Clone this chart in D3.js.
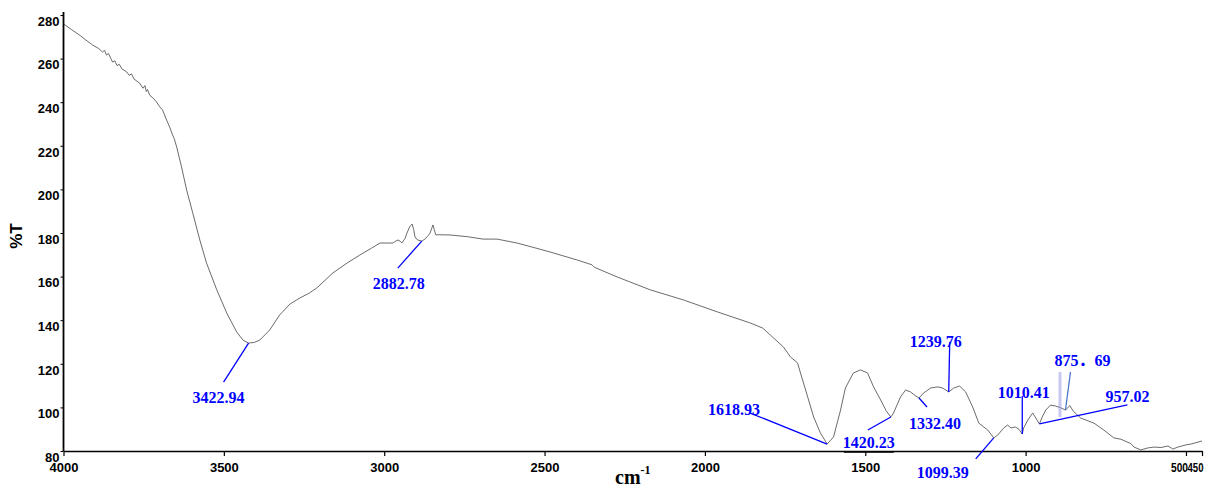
<!DOCTYPE html>
<html>
<head>
<meta charset="utf-8">
<script src="https://cdn.jsdelivr.net/npm/d3@7"></script>
<style>
  html, body { margin: 0; padding: 0; background: #fff; }
  svg { display: block; }
  .tick text { font-family: "Liberation Sans", Arial, sans-serif; font-weight: bold; font-size: 13px; fill: #000; }
  .peak-label { font-family: "Liberation Serif", "Times New Roman", "Noto Sans CJK SC", serif; font-weight: bold; font-size: 16px; fill: #0000ff; }
</style>
</head>
<body>
<svg id="chart" width="1211" height="487"></svg>
<script>
// FTIR spectrum: wavenumber (cm-1) and transmittance (%T)
const wavenumbers = [
  4000, 3975, 3950, 3930, 3909, 3890, 3878, 3872, 3866, 3860, 3852, 3847, 3840, 3833, 3826, 3818,
  3803, 3795, 3788, 3780, 3763, 3752, 3746, 3742, 3738, 3731, 3722, 3710, 3700, 3691, 3680, 3669,
  3660, 3655, 3647, 3632, 3616, 3597, 3575, 3554, 3522, 3491, 3460, 3440, 3422.94, 3405, 3388, 3357,
  3326, 3294, 3263, 3235, 3210, 3160, 3116, 3076, 3040, 3013, 2973, 2965, 2957, 2950, 2945, 2935,
  2929, 2920, 2913, 2908, 2904, 2896, 2882.78, 2873, 2863, 2857, 2851, 2848, 2844, 2839, 2830, 2795,
  2740, 2692, 2648, 2586, 2530, 2483, 2398, 2352, 2345, 2273, 2170, 2067, 1961, 1858, 1820, 1796,
  1755, 1733, 1711, 1702, 1685, 1661, 1640, 1618.93, 1599, 1577, 1562, 1537, 1515, 1493, 1474, 1452,
  1435, 1420.23, 1412, 1390, 1374, 1359, 1345, 1332.40, 1318, 1296, 1274, 1259, 1239.76, 1224, 1206, 1187,
  1165, 1146, 1118, 1099.39, 1087, 1068, 1056, 1046, 1031, 1020, 1010.41, 1006, 993, 978, 968, 957.02,
  947, 937, 922, 906, 890, 875.69, 862, 851, 828, 787, 756, 725, 703, 672, 662, 641,
  619, 600, 578, 556, 541, 525, 500, 484, 450
];
const transmittance = [
  275.9, 273.3, 270.8, 268.5, 266.2, 264.6, 263.0, 263.8, 261.6, 262.4, 260.0, 258.4, 259.0, 256.8, 257.4, 255.3,
  253.9, 252.3, 253.0, 250.6, 248.8, 246.4, 247.6, 244.9, 245.8, 243.2, 242.1, 240.1, 237.9, 236.4, 232.3, 228.6,
  225.0, 223.4, 219.4, 210.3, 199.7, 189.2, 176.8, 166.2, 153.9, 143.3, 134.6, 130.8, 129.5, 129.8, 130.9, 135.5,
  142.4, 147.4, 150.2, 152.3, 154.8, 161.7, 166.2, 169.9, 173.0, 175.4, 175.4, 176.2, 176.8, 176.2, 175.4, 177.5,
  180.0, 183.0, 184.1, 181.5, 178.2, 176.8, 176.3, 177.2, 178.8, 180.0, 182.5, 183.7, 181.5, 179.1, 179.2, 179.1,
  178.3, 177.2, 177.2, 175.4, 173.2, 171.3, 167.6, 165.4, 164.3, 159.8, 153.9, 149.3, 143.8, 138.7, 136.4, 133.2,
  127.7, 123.1, 120.4, 115.8, 107.5, 95.6, 88.3, 83.2, 86.4, 98.8, 108.9, 115.8, 117.2, 115.8, 109.4, 103.4,
  98.5, 95.6, 97.4, 104.8, 108.0, 107.1, 105.5, 104.3, 106.6, 108.9, 109.4, 108.9, 107.1, 108.9, 109.8, 107.1,
  100.2, 92.8, 89.6, 86.0, 87.3, 90.6, 91.9, 90.6, 91.0, 89.8, 87.8, 90.6, 94.2, 97.4, 95.1, 92.4,
  96.0, 98.8, 101.1, 100.6, 99.8, 98.8, 100.8, 98.2, 95.1, 92.8, 89.6, 86.0, 85.4, 83.4, 81.8, 80.5,
  81.4, 81.8, 81.6, 82.3, 80.9, 81.8, 82.8, 83.2, 84.6
];

// Axis ticks
const xTicks = [4000, 3500, 3000, 2500, 2000, 1500, 1000, 500, 450];
const yTicks = [80, 100, 120, 140, 160, 180, 200, 220, 240, 260, 280];

// Labelled band positions (cm-1)
const peakLabels = ["3422.94", "2882.78", "1618.93", "1420.23", "1332.40", "1239.76", "1099.39", "1010.41", "957.02", "875．69"];
const peakWavenumbers = [3422.94, 2882.78, 1618.93, 1420.23, 1332.40, 1239.76, 1099.39, 1010.41, 957.02, 875.69];

// Leader-line end and label centre, as pixel offsets from the band point
const labelLayout = [
  { lx: -25, ly: 39, tx: -30, ty: 54 },
  { lx: -24, ly: 27, tx: -23, ty: 42 },
  { lx: -77, ly: -31, tx: -93, ty: -35 },
  { lx: -23, ly: 13, tx: -22, ty: 26 },
  { lx: 8, ly: 9, tx: 16, ty: 25 },
  { lx: 1, ly: -50, tx: -13, ty: -50 },
  { lx: -18, ly: 21, tx: -51, ty: 35 },
  { lx: 0, ly: -38, tx: 1.5, ty: -41 },
  { lx: 88, ly: -19, tx: 88, ty: -27 },
  { lx: 5, ly: -38, tx: 17, ty: -50 }
];

const svg = d3.select("#chart");
const margin = { left: 63.5, right: 1202, top: 15, bottom: 451 };

const x = d3.scaleLinear().domain([4000, 450]).range([margin.left, margin.right]);
const y = d3.scaleLinear().domain([80, 280]).range([margin.bottom, margin.top]);

const spectrum = wavenumbers.map((w, i) => ({ w, t: transmittance[i] }));

// Transmittance at a given wavenumber, by linear interpolation along the trace
function tAt(w) {
  for (let i = 0; i < spectrum.length - 1; i++) {
    const a = spectrum[i], b = spectrum[i + 1];
    if (w <= a.w && w >= b.w) {
      const f = (a.w - w) / (a.w - b.w);
      return a.t + f * (b.t - a.t);
    }
  }
  return spectrum[spectrum.length - 1].t;
}

// Spectrum trace
svg.append("path")
  .datum(spectrum)
  .attr("fill", "none")
  .attr("stroke", "#5a5a5a")
  .attr("stroke-width", 0.9)
  .attr("stroke-linejoin", "round")
  .attr("d", d3.line().x(d => x(d.w)).y(d => y(d.t)));

// X axis
const xAxis = svg.append("g")
  .attr("transform", `translate(0,${margin.bottom})`)
  .call(d3.axisBottom(x).tickValues(xTicks).tickFormat(d3.format("d")).tickSize(5).tickSizeOuter(0).tickPadding(7));
xAxis.select(".domain").attr("stroke-width", 1.5);
xAxis.selectAll(".tick line").attr("stroke-width", 1.2);
// the two closely spaced end labels are set tight against each other
xAxis.selectAll(".tick text")
  .filter(d => d === 500)
  .attr("text-anchor", "end").attr("x", 1.5)
  .attr("textLength", 17).attr("lengthAdjust", "spacingAndGlyphs");
xAxis.selectAll(".tick text")
  .filter(d => d === 450)
  .attr("text-anchor", "end").attr("x", 1)
  .attr("textLength", 16).attr("lengthAdjust", "spacingAndGlyphs");

// Y axis
const yAxis = svg.append("g")
  .attr("transform", `translate(${margin.left},0)`)
  .call(d3.axisLeft(y).tickValues(yTicks).tickFormat(d3.format("d")).tickSize(3).tickSizeOuter(0).tickPadding(1));
yAxis.select(".domain").attr("stroke-width", 1.8).attr("d", `M0,${margin.bottom}V12`);
yAxis.selectAll(".tick text").attr("dy", "0.72em").attr("y", 1);

// Axis titles
svg.append("text")
  .attr("transform", "translate(22,236) rotate(-90)")
  .attr("text-anchor", "middle")
  .style("font-family", "'Liberation Sans', Arial, sans-serif")
  .style("font-weight", "bold")
  .style("font-size", "17px")
  .text("%T");

const xTitle = svg.append("text")
  .attr("x", 615)
  .attr("y", 484)
  .style("font-family", "'Liberation Serif', 'Times New Roman', serif")
  .style("font-weight", "bold")
  .style("font-size", "20px");
xTitle.append("tspan").text("cm");
xTitle.append("tspan").attr("dy", -10).style("font-size", "12px").text("-1");

// Band annotations
const peaks = peakWavenumbers.map((w, i) => ({ w, t: tAt(w), label: peakLabels[i], ...labelLayout[i] }));
const ann = svg.append("g");

// faint guide behind the 875.69 band
const p875 = peaks[9];
ann.append("line")
  .attr("x1", x(p875.w) - 5.5).attr("x2", x(p875.w) - 5.5)
  .attr("y1", y(p875.t) - 38).attr("y2", y(p875.t) + 7)
  .attr("stroke", "#9a9ae6").attr("stroke-opacity", 0.55).attr("stroke-width", 3);

ann.selectAll("line.leader")
  .data(peaks)
  .join("line")
  .attr("class", "leader")
  .attr("x1", d => x(d.w))
  .attr("y1", d => y(d.t))
  .attr("x2", d => x(d.w) + d.lx)
  .attr("y2", d => y(d.t) + d.ly)
  .attr("stroke", d => d.w === 875.69 ? "#4a78c8" : "#0000ff")
  .attr("stroke-width", 1.3);

ann.selectAll("text.peak-label")
  .data(peaks)
  .join("text")
  .attr("class", "peak-label")
  .attr("text-anchor", "middle")
  .attr("x", d => x(d.w) + d.tx)
  .attr("y", d => y(d.t) + d.ty + 5.5)
  .text(d => d.label);

// underline beneath the 1420.23 label
const p1420 = peaks[3];
ann.append("line")
  .attr("x1", x(p1420.w) + p1420.tx - 25).attr("x2", x(p1420.w) + p1420.tx + 25)
  .attr("y1", margin.bottom + 1.2).attr("y2", margin.bottom + 1.2)
  .attr("stroke", "#000").attr("stroke-width", 1.2);
</script>
</body>
</html>
